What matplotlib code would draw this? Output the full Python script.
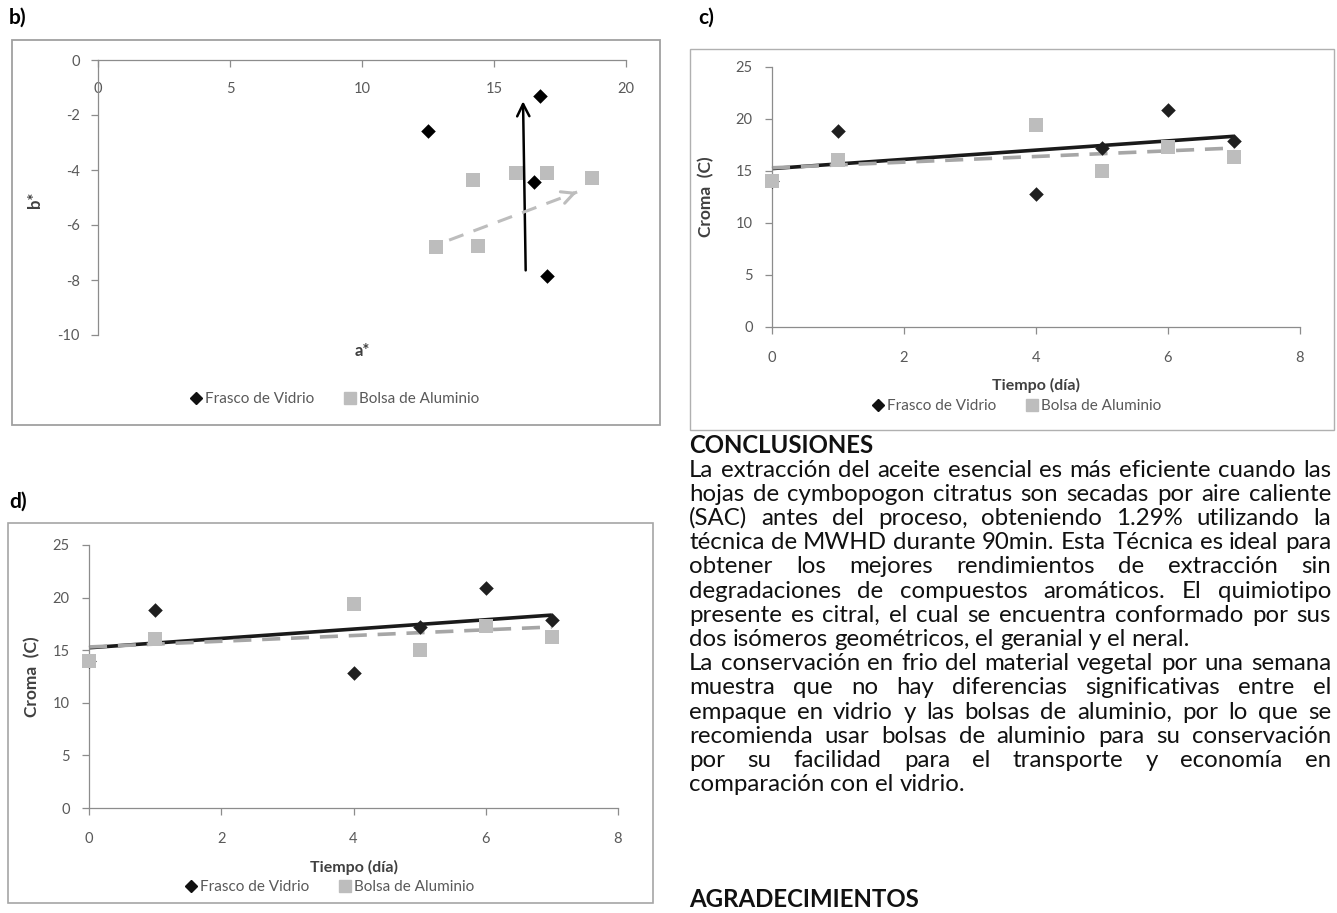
import numpy as np
import matplotlib
matplotlib.use('Agg')
import matplotlib.pyplot as plt
from matplotlib.lines import Line2D
from matplotlib.patches import Rectangle

plt.rcParams['font.family'] = ['Lato', 'DejaVu Sans']
plt.rcParams['axes.unicode_minus'] = False

W, H = 1337, 913

# ---------------- data ----------------
# panel b: a* / b* colour coordinates
b_frasco_a = [12.5, 16.75, 16.5, 17.0]
b_frasco_b = [-2.6, -1.3, -4.45, -7.85]
b_bolsa_a = [14.2, 15.85, 17.0, 18.7, 12.8, 14.4]
b_bolsa_b = [-4.35, -4.1, -4.1, -4.3, -6.8, -6.75]
b_arrow_frasco = [(16.2, -7.65), (16.1, -1.5)]   # tail, head
b_arrow_bolsa = [(13.3, -6.55), (18.15, -4.8)]    # tail, head
b_xticks = [0, 5, 10, 15, 20]
b_yticks = [0, -2, -4, -6, -8, -10]

# panels c and d: chroma vs time
dias = [0, 1, 4, 5, 6, 7]
croma_frasco = [14.0, 18.8, 12.8, 17.2, 20.9, 17.9]
croma_bolsa = [14.0, 16.1, 19.4, 15.0, 17.3, 16.3]
t_xticks = [0, 2, 4, 6, 8]
t_yticks = [0, 5, 10, 15, 20, 25]

serie_labels = ['Frasco de Vidrio', 'Bolsa de Aluminio']

heading1 = 'CONCLUSIONES'
heading2 = 'AGRADECIMIENTOS'
para1 = [
    'La extracción del aceite esencial es más eficiente cuando las',
    'hojas de cymbopogon citratus son secadas por aire caliente',
    '(SAC) antes del proceso, obteniendo 1.29% utilizando la',
    'técnica de MWHD durante 90min. Esta Técnica es ideal para',
    'obtener los mejores rendimientos de extracción sin',
    'degradaciones de compuestos aromáticos. El quimiotipo',
    'presente es citral, el cual se encuentra conformado por sus',
    'dos isómeros geométricos, el geranial y el neral.',
]
para2 = [
    'La conservación en frio del material vegetal por una semana',
    'muestra que no hay diferencias significativas entre el',
    'empaque en vidrio y las bolsas de aluminio, por lo que se',
    'recomienda usar bolsas de aluminio para su conservación',
    'por su facilidad para el transporte y economía en',
    'comparación con el vidrio.',
]

# ---------------- styles ----------------
AX_COL = '#8c8c8c'
LAB_COL = '#595959'
TITLE_COL = '#404040'
DIAMOND_COL = '#111111'
SQUARE_COL = '#bdbdbd'

fig = plt.figure(figsize=(W / 100, H / 100), dpi=100)


def fx(x):
    return x / W


def fy(y):
    return 1 - y / H


def box(x0, y0, x1, y1, color='#a6a6a6', lw=1.2):
    fig.patches.append(Rectangle((fx(x0), fy(y1)), (x1 - x0) / W, (y1 - y0) / H,
                                 transform=fig.transFigure, fill=False,
                                 edgecolor=color, lw=lw, zorder=0))


def axes_px(x0, x1, y0, y1):
    return fig.add_axes([fx(x0), fy(y1), (x1 - x0) / W, (y1 - y0) / H])


def style(ax, xpad, ypad):
    for s in ['top', 'right']:
        ax.spines[s].set_visible(False)
    for s in ['left', 'bottom']:
        ax.spines[s].set_color(AX_COL)
        ax.spines[s].set_linewidth(0.9)
    ax.patch.set_alpha(0)
    ax.tick_params(axis='both', colors=AX_COL, labelcolor=LAB_COL,
                   labelsize=10.5, length=5, width=0.9, direction='out')
    ax.tick_params(axis='x', pad=xpad)
    ax.tick_params(axis='y', pad=ypad)


def legend(ax, cx, cy):
    handles = [Line2D([], [], ls='none', marker='D', color=DIAMOND_COL, ms=6),
               Line2D([], [], ls='none', marker='s', color=SQUARE_COL, ms=9)]
    ax.legend(handles, serie_labels, loc='center', ncol=2, frameon=False,
              bbox_to_anchor=(fx(cx), fy(cy)), bbox_transform=fig.transFigure,
              fontsize=11, labelcolor=LAB_COL, handlelength=0.7,
              handletextpad=0.25, columnspacing=2.0, borderpad=0)


D_SIZE = 55
S_SIZE = 105

# ---------------- panel b ----------------
box(12, 40, 660, 425, color='#a0a0a0', lw=1.3)
fig.text(fx(9), fy(18), 'b)', fontsize=15, fontweight='bold', va='center', ha='left')
axb = axes_px(98, 626, 60, 335)
axb.set_xlim(0, 20)
axb.set_ylim(-10, 0)
style(axb, xpad=11, ypad=8)
axb.spines['bottom'].set_position(('data', 0))
axb.set_xticks(b_xticks)
axb.set_yticks(b_yticks)
axb.scatter(b_frasco_a, b_frasco_b, marker='D', s=D_SIZE, color='black', zorder=4,
            linewidths=0, clip_on=False)
axb.scatter(b_bolsa_a, b_bolsa_b, marker='s', s=S_SIZE, color=SQUARE_COL, zorder=3,
            linewidths=0, clip_on=False)
axb.annotate('', xy=b_arrow_frasco[1], xytext=b_arrow_frasco[0],
             arrowprops=dict(arrowstyle='->', color='black', lw=1.8, mutation_scale=22,
                             shrinkA=0, shrinkB=0), zorder=5)
(tx, ty), (hx, hy) = b_arrow_bolsa
axb.plot([tx, hx], [ty, hy], color=SQUARE_COL, lw=2.2, dashes=(5, 3.5), zorder=5)
axb.annotate('', xy=(hx, hy), xytext=(hx - 0.03 * (hx - tx), hy - 0.03 * (hy - ty)),
             arrowprops=dict(arrowstyle='->', color=SQUARE_COL, lw=2.2, mutation_scale=22,
                             shrinkA=0, shrinkB=0), zorder=5)
fig.text(fx(362), fy(351), 'a*', fontsize=12, fontweight='bold', color=TITLE_COL,
         ha='center', va='center')
fig.text(fx(35), fy(200), 'b*', fontsize=12, fontweight='bold', color=TITLE_COL,
         ha='center', va='center', rotation=90)
legend(axb, 335, 399)


# ---------------- panels c and d ----------------
def croma_panel(x0, x1, y0, y1, title_x, title_y, ylab_x, leg_cx, leg_cy):
    ax = axes_px(x0, x1, y0, y1)
    ax.set_xlim(0, 8)
    ax.set_ylim(0, 25)
    style(ax, xpad=12, ypad=9)
    ax.set_xticks(t_xticks)
    ax.set_yticks(t_yticks)
    xs = np.array([min(dias), max(dias)], dtype=float)
    pf = np.polyfit(dias, croma_frasco, 1)
    pb = np.polyfit(dias, croma_bolsa, 1)
    ax.plot(xs, np.polyval(pf, xs), color='#1a1a1a', lw=2.6, zorder=2,
            solid_capstyle='butt', clip_on=False)
    ax.plot(xs, np.polyval(pb, xs), color='#a6a6a6', lw=2.6, dashes=(5, 3), zorder=2.5,
            clip_on=False)
    ax.scatter(dias, croma_frasco, marker='D', s=D_SIZE, color='#1f1f1f', zorder=3,
               linewidths=0, clip_on=False)
    ax.scatter(dias, croma_bolsa, marker='s', s=S_SIZE, color=SQUARE_COL, zorder=4,
               linewidths=0, clip_on=False)
    fig.text(fx(title_x), fy(title_y), 'Tiempo (día)', fontsize=11.5, fontweight='bold',
             color=TITLE_COL, ha='center', va='center')
    fig.text(fx(ylab_x), fy((y0 + y1) / 2), 'Croma  (C)', fontsize=12.5, fontweight='bold',
             color=TITLE_COL, ha='center', va='center', rotation=90)
    legend(ax, leg_cx, leg_cy)
    return ax


box(690, 49, 1334, 430, color='#b0b0b0', lw=1.0)
fig.text(fx(698), fy(18), 'c)', fontsize=15, fontweight='bold', va='center', ha='left')
croma_panel(772, 1300, 67, 327, 1036, 385, 706, 1017, 406)

box(8, 523, 653, 903, color='#a6a6a6', lw=1.2)
fig.text(fx(9), fy(502), 'd)', fontsize=15, fontweight='bold', va='center', ha='left')
croma_panel(89, 618, 545, 808, 354, 867, 32, 330, 887)

# ---------------- text column ----------------
renderer = fig.canvas.get_renderer()


def text_width(s, size, weight='normal'):
    t = fig.text(0, 0, s, fontsize=size, fontweight=weight)
    w = t.get_window_extent(renderer).width
    t.remove()
    return w


X0, X1 = 689, 1331
justified = [(l, i < len(para1) - 1) for i, l in enumerate(para1)] + \
            [(l, i < len(para2) - 1) for i, l in enumerate(para2)]

base = 10
space_base = text_width('a a', base) - text_width('aa', base)
nat = []
for line, _ in justified:
    words = line.split()
    nat.append(sum(text_width(w, base) for w in words) + space_base * (len(words) - 1))
fs = base * (X1 - X0) * 0.995 / max(nat)
space = space_base * fs / base
em = fs * 100 / 72

line0 = 468
step = 24.2
fig.text(fx(X0), fy(444 + 0.36 * em), heading1, fontsize=fs, fontweight='bold',
         va='baseline', ha='left', color='#111111')
for i, (line, just) in enumerate(justified):
    words = line.split()
    widths = [text_width(w, fs) for w in words]
    if just and len(words) > 1:
        gap = (X1 - X0 - sum(widths)) / (len(words) - 1)
    else:
        gap = space
    yb = line0 + i * step + 0.36 * em
    x = X0
    for w, wd in zip(words, widths):
        fig.text(fx(x), fy(yb), w, fontsize=fs, va='baseline', ha='left', color='#111111')
        x += wd + gap
fig.text(fx(X0), fy(898 + 0.36 * em), heading2, fontsize=fs, fontweight='bold',
         va='baseline', ha='left', color='#111111')

fig.savefig('out.png', dpi=100)
